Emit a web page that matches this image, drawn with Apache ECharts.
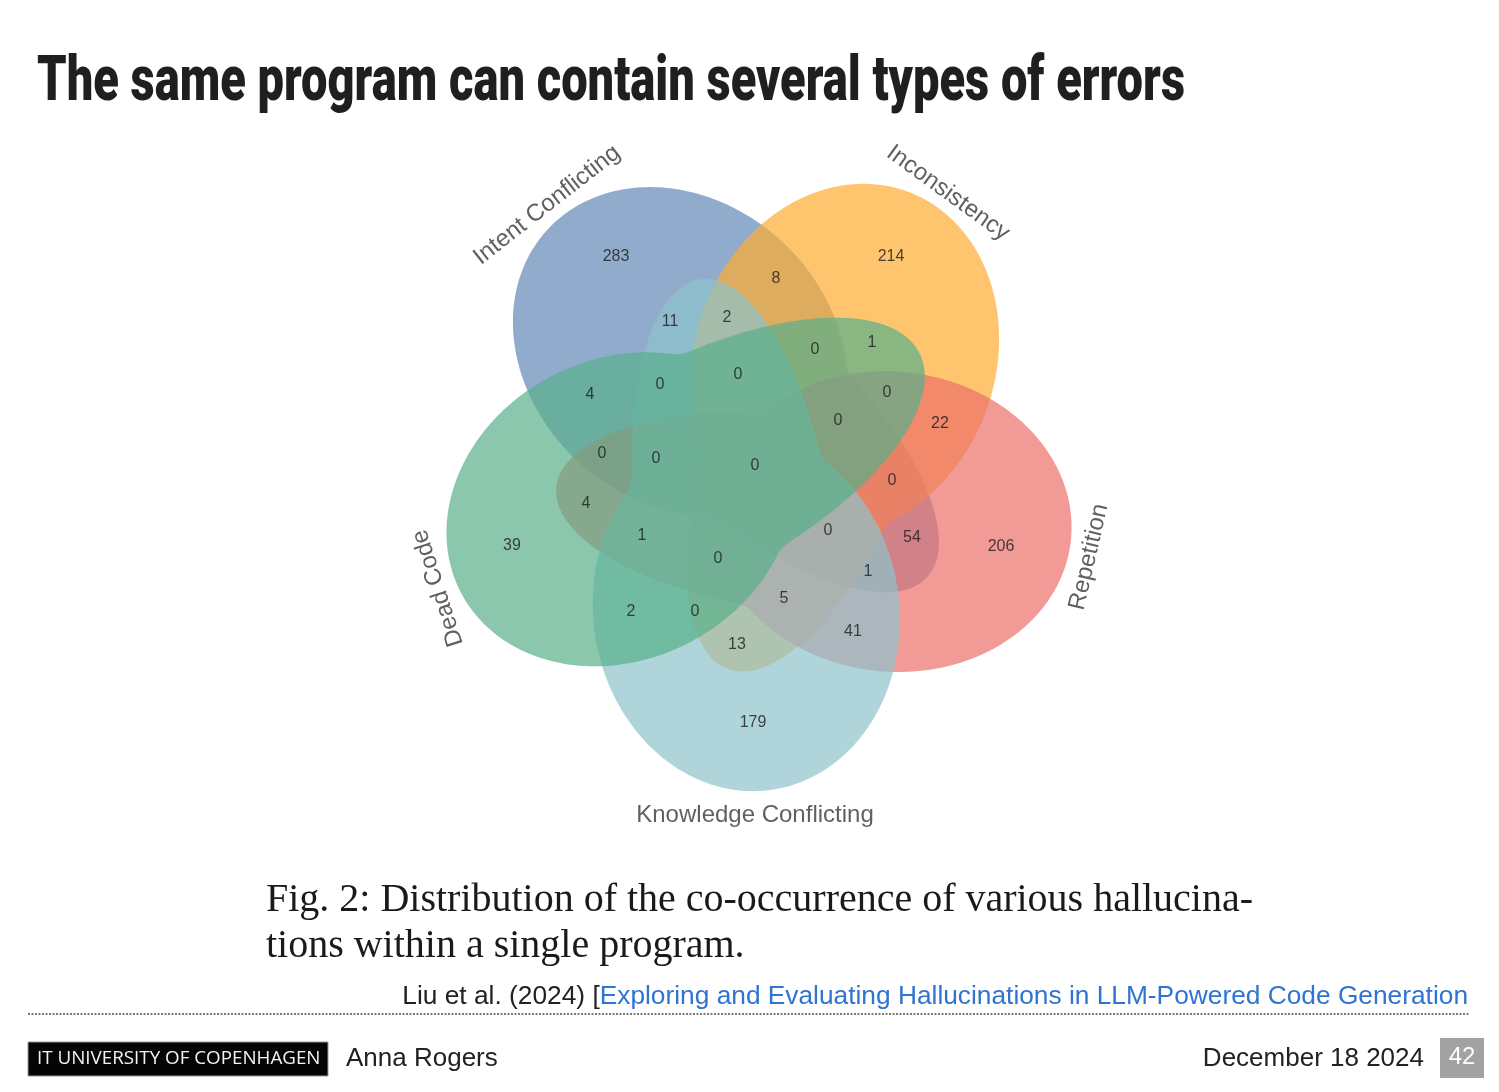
<!DOCTYPE html>
<html>
<head>
<meta charset="utf-8">
<title>Venn - hallucination co-occurrence</title>
<script src="https://cdn.jsdelivr.net/npm/echarts@6/dist/echarts.min.js"></script>
<style>
	html, body { margin: 0; padding: 0; background: #fff; }
	#main { width: 1499px; height: 1092px; }
</style>
</head>
<body>
<div id="main"></div>
<script>
	// sets, drawn in this order (last one on top)
	var setNames = ['Intent Conflicting', 'Inconsistency', 'Repetition', 'Knowledge Conflicting', 'Dead Code'];
	var setColors = ['rgba(98,136,184,0.7)', 'rgba(255,172,48,0.7)', 'rgba(236,111,105,0.7)', 'rgba(141,195,204,0.7)', 'rgba(88,175,138,0.7)'];

	// each set outline: a wide outer lobe plus a narrower arm reaching to an inner tip
	var outerX = [547, 909, 1071, 771, 461];
	var outerY = [230, 192, 540, 790, 593];
	var tipX = [928, 727, 555, 700, 920];
	var tipY = [578, 670, 487, 278, 352];
	var lobeLong = [180, 180, 180, 180, 180];
	var lobeWide = [150, 150, 150, 153, 150];
	var armHalf = [100, 100, 100, 98, 110];

	// region counts and where they sit
	var regionCounts = [283, 214, 8, 11, 2, 0, 1, 4, 0, 0, 0, 0, 22, 0, 0, 0, 0, 4, 1, 39, 0, 54, 206, 0, 1, 5, 2, 0, 41, 13, 179];
	var regionX = [616, 891, 776, 670, 727, 815, 872, 590, 660, 738, 887, 838, 940, 602, 656, 755, 892, 586, 642, 512, 828, 912, 1001, 718, 868, 784, 631, 695, 853, 737, 753];
	var regionY = [257, 257, 279, 322, 318, 350, 343, 395, 385, 375, 393, 421, 424, 454, 459, 466, 481, 504, 536, 546, 531, 538, 547, 559, 572, 599, 612, 612, 632, 645, 723];

	// set name labels
	var nameX = [547, 948, 1089, 755, 438];
	var nameY = [205, 193, 557, 815, 588];
	var nameAngle = [38, -36, 77, 0, 108];

	var titleText = 'The same program can contain several types of errors';
	var captionLines = ['Fig. 2: Distribution of the co-occurrence of various hallucina-', 'tions within a single program.'];

	var measureCtx = document.createElement('canvas').getContext('2d');
	function textWidth(str, font) {
		measureCtx.font = font;
		return measureCtx.measureText(str).width;
	}

	// distance along a ray from local point (lx,ly) to the edge of an axis-aligned ellipse
	function rayToEllipse(lx, ly, du, dv, ea, eb) {
		var A = du * du / (ea * ea) + dv * dv / (eb * eb);
		var B = 2 * (lx * du / (ea * ea) + ly * dv / (eb * eb));
		var C = lx * lx / (ea * ea) + ly * ly / (eb * eb) - 1;
		return (-B + Math.sqrt(B * B - 4 * A * C)) / (2 * A);
	}

	// outline of set i, star-shaped around a point inside both lobe and arm
	function setOutline(i) {
		var ox = outerX[i], oy = outerY[i];
		var dx = tipX[i] - ox, dy = tipY[i] - oy;
		var len = Math.sqrt(dx * dx + dy * dy);
		var ux = dx / len, uy = dy / len;
		var la = lobeLong[i], lb = lobeWide[i];
		var lcx = ox + ux * la, lcy = oy + uy * la;
		var ea = len / 2, eb = armHalf[i];
		var ecx = ox + ux * ea, ecy = oy + uy * ea;
		var sx = ox + ux * la * 1.2, sy = oy + uy * la * 1.2;
		var n = 360, rs = [], k;
		for(k = 0; k < n; k++) {
			var ang = k / n * Math.PI * 2;
			var cx = Math.cos(ang), cy = Math.sin(ang);
			var du = cx * ux + cy * uy, dv = -cx * uy + cy * ux;
			var l1x = (sx - lcx) * ux + (sy - lcy) * uy;
			var l1y = -(sx - lcx) * uy + (sy - lcy) * ux;
			var l2x = (sx - ecx) * ux + (sy - ecy) * uy;
			var l2y = -(sx - ecx) * uy + (sy - ecy) * ux;
			var t1 = rayToEllipse(l1x, l1y, du, dv, la, lb);
			var t2 = rayToEllipse(l2x, l2y, du, dv, ea, eb);
			rs.push(Math.max(t1, t2));
		}
		var pts = [];
		for(k = 0; k < n; k++) {
			var s = 0;
			for(var j = -3; j <= 3; j++) {
				s += rs[(k + j + n) % n];
			}
			s = s / 7;
			var a2 = k / n * Math.PI * 2;
			pts.push([sx + s * Math.cos(a2), sy + s * Math.sin(a2)]);
		}
		return pts;
	}

	var titleFont = '900 63px Roboto, "Liberation Sans Narrow", sans-serif';
	var titleScale = 1148 / textWidth(titleText, titleFont);
	var captionFont = '40px "Liberation Serif", "DejaVu Serif", serif';
	var captionScale = 987 / textWidth(captionLines[0], captionFont);
	if(captionScale > 1.08) captionScale = 1.08;

	var chart = echarts.init(document.getElementById('main'), null, { renderer: 'canvas' });

	var option = {
		animation: false,
		grid: { left: 0, right: 0, top: 0, bottom: 0 },
		xAxis: { type: 'value', min: 0, max: 1499, show: false },
		yAxis: { type: 'value', min: 0, max: 1092, inverse: true, show: false },
		series: [{
			type: 'custom',
			silent: true,
			clip: false,
			data: setNames.map(function(name, i) {
				return [outerX[i], outerY[i], i];
			}),
			renderItem: function(params, api) {
				var i = params.dataIndex;
				var pts = setOutline(i).map(function(p) {
					return api.coord(p);
				});
				return {
					type: 'polygon',
					shape: { points: pts },
					style: { fill: setColors[i], stroke: null }
				};
			},
			z: 1
		}, {
			type: 'scatter',
			silent: true,
			symbolSize: 1,
			itemStyle: { color: 'rgba(0,0,0,0)' },
			data: regionCounts.map(function(c, i) {
				return [regionX[i], regionY[i], c];
			}),
			label: {
				show: true,
				position: 'inside',
				formatter: function(p) { return p.value[2]; },
				fontSize: 16,
				fontFamily: '"Liberation Sans", Arial, sans-serif',
				color: '#1c1c1c'
			},
			z: 3
		}, {
			type: 'scatter',
			silent: true,
			symbolSize: 1,
			itemStyle: { color: 'rgba(0,0,0,0)' },
			data: setNames.map(function(name, i) {
				return {
					value: [nameX[i], nameY[i]],
					name: name,
					label: { rotate: nameAngle[i] }
				};
			}),
			label: {
				show: true,
				position: 'inside',
				formatter: function(p) { return p.name; },
				fontSize: 24,
				fontFamily: '"Liberation Sans", Arial, sans-serif',
				color: '#383838'
			},
			z: 3
		}],
		graphic: [{
			type: 'text',
			x: 37,
			y: 84,
			scaleX: titleScale,
			style: {
				text: titleText,
				font: titleFont,
				fill: '#1f1f1f',
				align: 'left',
				verticalAlign: 'middle'
			}
		}, {
			type: 'text',
			x: 266,
			y: 900,
			scaleX: captionScale,
			style: {
				text: captionLines[0],
				font: captionFont,
				fill: '#1a1a1a',
				align: 'left',
				verticalAlign: 'middle'
			}
		}, {
			type: 'text',
			x: 266,
			y: 946,
			scaleX: captionScale,
			style: {
				text: captionLines[1],
				font: captionFont,
				fill: '#1a1a1a',
				align: 'left',
				verticalAlign: 'middle'
			}
		}, {
			type: 'text',
			x: 1468,
			y: 997,
			style: {
				text: '{a|Liu et al. (2024) [}{b|Exploring and Evaluating Hallucinations in LLM-Powered Code Generation}',
				align: 'right',
				verticalAlign: 'middle',
				rich: {
					a: { fill: '#222', fontSize: 26.3, fontFamily: '"Liberation Sans", Arial, sans-serif' },
					b: { fill: '#2f74d2', fontSize: 26.3, fontFamily: '"Liberation Sans", Arial, sans-serif' }
				}
			}
		}, {
			type: 'line',
			shape: { x1: 28, y1: 1014, x2: 1470, y2: 1014 },
			style: { stroke: '#7a7a7a', lineWidth: 2, lineDash: [2, 1.5] }
		}, {
			type: 'rect',
			shape: { x: 28, y: 1042, width: 300, height: 34 },
			style: { fill: '#050505', stroke: '#9a9a9a', lineWidth: 1 }
		}, {
			type: 'text',
			x: 37,
			y: 1059,
			style: {
				text: 'IT UNIVERSITY OF COPENHAGEN',
				font: '18.8px "Open Sans", "Noto Sans", sans-serif',
				fill: '#f2f2f2',
				align: 'left',
				verticalAlign: 'middle'
			}
		}, {
			type: 'text',
			x: 346,
			y: 1059,
			style: {
				text: 'Anna Rogers',
				font: '26px "Liberation Sans", Arial, sans-serif',
				fill: '#222',
				align: 'left',
				verticalAlign: 'middle'
			}
		}, {
			type: 'text',
			x: 1424,
			y: 1059,
			style: {
				text: 'December 18 2024',
				font: '26px "Liberation Sans", Arial, sans-serif',
				fill: '#222',
				align: 'right',
				verticalAlign: 'middle'
			}
		}, {
			type: 'rect',
			shape: { x: 1440, y: 1038, width: 44, height: 40 },
			style: { fill: '#a2a2a2' }
		}, {
			type: 'text',
			x: 1462,
			y: 1057,
			style: {
				text: '42',
				font: '24px "Liberation Sans", Arial, sans-serif',
				fill: '#fff',
				align: 'center',
				verticalAlign: 'middle'
			}
		}]
	};

	chart.setOption(option);
</script>
</body>
</html>
